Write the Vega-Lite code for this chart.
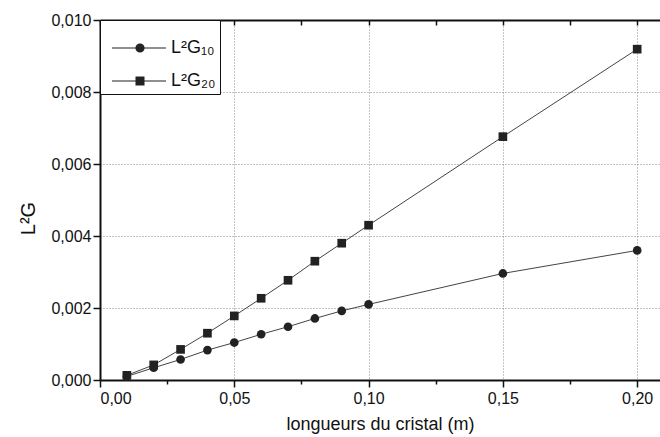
{
  "$schema": "https://vega.github.io/schema/vega-lite/v6.json",
  "width": 560,
  "height": 360,
  "autosize": {"type": "none"},
  "padding": {"left": 100, "top": 20, "right": 0, "bottom": 57},
  "background": "white",
  "config": {
    "view": {"stroke": null},
    "font": "Liberation Sans",
    "axis": {
      "domainColor": "#111",
      "domainWidth": 2,
      "tickColor": "#111",
      "tickWidth": 1.5,
      "labelFont": "Liberation Sans",
      "labelFontSize": 16,
      "labelColor": "#111",
      "titleFont": "Liberation Sans",
      "titleFontSize": 18,
      "titleFontWeight": "normal",
      "titleColor": "#111",
      "gridColor": "#888",
      "gridDash": [1, 2],
      "gridWidth": 1
    }
  },
  "data": {
    "values": [
      {"x": 0.01, "y": 0.0001, "serie": "L²G₁₀"},
      {"x": 0.02, "y": 0.00034, "serie": "L²G₁₀"},
      {"x": 0.03, "y": 0.00057, "serie": "L²G₁₀"},
      {"x": 0.04, "y": 0.00083, "serie": "L²G₁₀"},
      {"x": 0.05, "y": 0.00104, "serie": "L²G₁₀"},
      {"x": 0.06, "y": 0.00127, "serie": "L²G₁₀"},
      {"x": 0.07, "y": 0.00148, "serie": "L²G₁₀"},
      {"x": 0.08, "y": 0.00171, "serie": "L²G₁₀"},
      {"x": 0.09, "y": 0.00192, "serie": "L²G₁₀"},
      {"x": 0.10, "y": 0.0021, "serie": "L²G₁₀"},
      {"x": 0.15, "y": 0.00296, "serie": "L²G₁₀"},
      {"x": 0.20, "y": 0.0036, "serie": "L²G₁₀"},
      {"x": 0.01, "y": 0.00013, "serie": "L²G₂₀"},
      {"x": 0.02, "y": 0.00042, "serie": "L²G₂₀"},
      {"x": 0.03, "y": 0.00085, "serie": "L²G₂₀"},
      {"x": 0.04, "y": 0.0013, "serie": "L²G₂₀"},
      {"x": 0.05, "y": 0.00178, "serie": "L²G₂₀"},
      {"x": 0.06, "y": 0.00227, "serie": "L²G₂₀"},
      {"x": 0.07, "y": 0.00277, "serie": "L²G₂₀"},
      {"x": 0.08, "y": 0.0033, "serie": "L²G₂₀"},
      {"x": 0.09, "y": 0.0038, "serie": "L²G₂₀"},
      {"x": 0.10, "y": 0.0043, "serie": "L²G₂₀"},
      {"x": 0.15, "y": 0.00676, "serie": "L²G₂₀"},
      {"x": 0.20, "y": 0.00919, "serie": "L²G₂₀"}
    ]
  },
  "layer": [
    {
      "mark": {"type": "line", "strokeWidth": 1, "color": "#444444"},
      "encoding": {
        "x": {
          "field": "x",
          "type": "quantitative",
          "scale": {"domain": [0, 0.2085], "nice": false, "zero": false},
          "title": "longueurs du cristal (m)",
          "axis": {
            "orient": "bottom",
            "values": [0, 0.025, 0.05, 0.075, 0.1, 0.125, 0.15, 0.175, 0.2],
            "labelExpr": "round(datum.value*1000) % 50 != 0 ? '' : replace(format(datum.value, '.2f'), '.', ',')",
            "tickSize": {"condition": {"test": "round(datum.value*1000) % 50 != 0", "value": 4}, "value": 7},
            "gridOpacity": {"condition": {"test": "round(datum.value*1000) % 50 != 0", "value": 0}, "value": 1},
            "grid": true,
            "labelPadding": 3,
            "titlePadding": 9
          }
        },
        "y": {
          "field": "y",
          "type": "quantitative",
          "scale": {"domain": [0, 0.010], "nice": false, "zero": false},
          "title": "L²G",
          "axis": {
            "values": [0, 0.001, 0.002, 0.003, 0.004, 0.005, 0.006, 0.007, 0.008, 0.009, 0.010],
            "labelExpr": "round(datum.value*10000) % 20 != 0 ? '' : replace(format(datum.value, '.3f'), '.', ',')",
            "tickSize": {"condition": {"test": "round(datum.value*10000) % 20 != 0", "value": 4}, "value": 7},
            "gridOpacity": {"condition": {"test": "round(datum.value*10000) % 20 != 0", "value": 0}, "value": 1},
            "grid": true,
            "labelPadding": 2,
            "titlePadding": 12,
            "titleFontSize": 20,
            "titleY": 198
          }
        },
        "detail": {"field": "serie", "type": "nominal"}
      }
    },
    {
      "mark": {"type": "point", "filled": true, "opacity": 1, "color": "#222222", "size": 75},
      "encoding": {
        "x": {
          "field": "x",
          "type": "quantitative",
          "scale": {"domain": [0, 0.2085], "nice": false, "zero": false},
          "axis": {
            "orient": "top",
            "values": [0, 0.025, 0.05, 0.075, 0.1, 0.125, 0.15, 0.175, 0.2],
            "labels": false,
            "title": null,
            "grid": false,
            "tickSize": -5
          }
        },
        "y": {"field": "y", "type": "quantitative", "title": "L²G"},
        "shape": {
          "field": "serie",
          "type": "nominal",
          "scale": {"domain": ["L²G₁₀", "L²G₂₀"], "range": ["circle", "square"]},
          "legend": null
        }
      }
    },
    {
      "mark": {"type": "point", "filled": false, "opacity": 0, "color": "#222222", "strokeWidth": 1.2, "size": 100},
      "encoding": {
        "x": {
          "field": "x",
          "type": "quantitative",
          "scale": {"domain": [0, 0.2085], "nice": false, "zero": false},
          "axis": null
        },
        "y": {"field": "y", "type": "quantitative", "title": "L²G"},
        "shape": {
          "field": "serie",
          "type": "nominal",
          "scale": {
            "domain": ["L²G₁₀", "L²G₂₀"],
            "range": [
              "M-0.2,0H10.6M4.6,0A0.8,0.8 0 1,0 6.2,0A0.8,0.8 0 1,0 4.6,0M4.8,0A0.6,0.6 0 1,0 6.0,0A0.6,0.6 0 1,0 4.8,0M5.0,0A0.4,0.4 0 1,0 5.8,0A0.4,0.4 0 1,0 5.0,0M5.2,0A0.2,0.2 0 1,0 5.6,0A0.2,0.2 0 1,0 5.2,0",
              "M-0.2,0H10.6M4.5,-0.8H6.3M4.5,-0.6H6.3M4.5,-0.4H6.3M4.5,-0.2H6.3M4.5,0.2H6.3M4.5,0.4H6.3M4.5,0.6H6.3M4.5,0.8H6.3"
            ]
          },
          "legend": {
            "orient": "none",
            "legendX": 0,
            "legendY": 0,
            "title": " ",
            "titleFontSize": 10,
            "titlePadding": 5,
            "padding": 4,
            "strokeColor": "#111111",
            "fillColor": "white",
            "labelFont": "Liberation Sans",
            "labelFontSize": 18,
            "labelColor": "#111111",
            "labelOffset": 49,
            "rowPadding": 15,
            "symbolSize": 100,
            "symbolOpacity": 1,
            "symbolStrokeColor": "#222222",
            "symbolStrokeWidth": 1.2
          }
        }
      }
    }
  ],
  "resolve": {"axis": {"x": "independent"}, "scale": {"shape": "independent"}}
}
